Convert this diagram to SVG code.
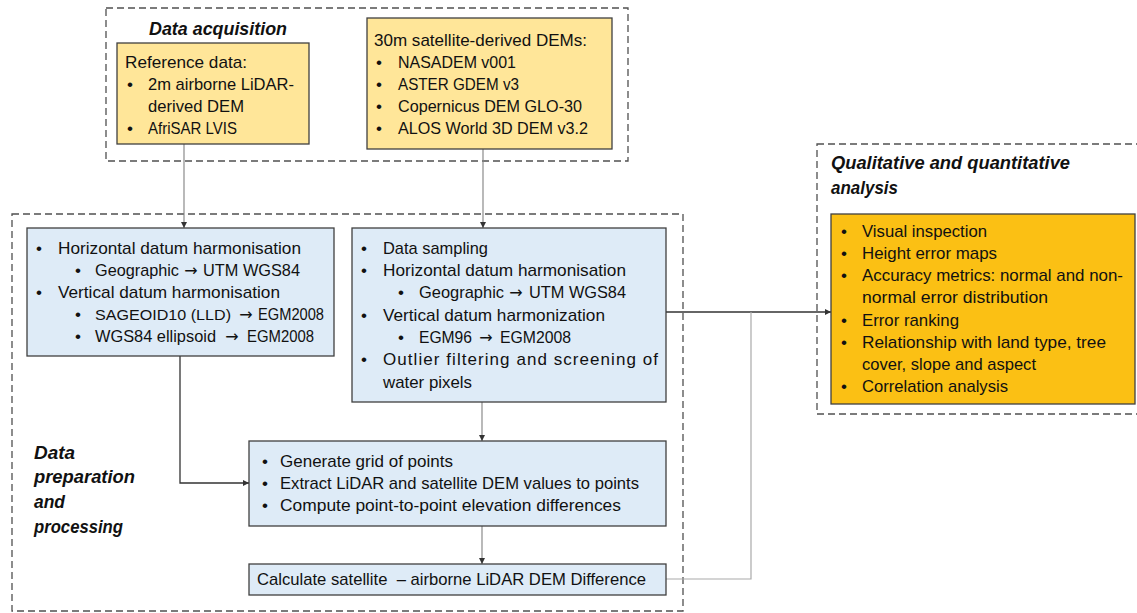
<svg xmlns="http://www.w3.org/2000/svg" width="1137" height="613" viewBox="0 0 1137 613">
<style>
.t{font-family:"Liberation Sans",Arial,sans-serif;font-size:17px;fill:#111}
.h{font-family:"Liberation Sans",Arial,sans-serif;font-size:18.5px;font-weight:bold;font-style:italic;fill:#111}
.ar{font-family:"DejaVu Sans",sans-serif;font-size:16px;fill:#111;text-anchor:middle}
.dash{fill:none;stroke:#505050;stroke-width:1.3;stroke-dasharray:7,4}
.y{fill:#FFE699;stroke:#404040;stroke-width:1.3}
.b{fill:#DEEBF7;stroke:#404040;stroke-width:1.3}
.o{fill:#FBC014;stroke:#404040;stroke-width:1.3}
.c1{fill:none;stroke:#808080;stroke-width:1.1}
.c2{fill:none;stroke:#333;stroke-width:1.3}
.c3{fill:none;stroke:#aaa;stroke-width:1.2}
</style>
<defs>
<marker id="ah" viewBox="0 0 10 10" refX="10" refY="5" markerWidth="6" markerHeight="6" markerUnits="userSpaceOnUse" orient="auto"><path d="M0,0L10,5L0,10z" fill="#333"/></marker>
</defs>

<g id="frames">
<rect class="dash" x="106" y="8" width="522" height="153"/>
<rect class="dash" x="12" y="214" width="671" height="397"/>
<rect class="dash" x="817" y="144" width="325" height="270"/>
<text class="h" x="149" y="35" textLength="138" lengthAdjust="spacingAndGlyphs">Data acquisition</text>
<text class="h" x="34" y="459" textLength="41" lengthAdjust="spacingAndGlyphs">Data</text>
<text class="h" x="34" y="483" textLength="101" lengthAdjust="spacingAndGlyphs">preparation</text>
<text class="h" x="34" y="508" textLength="31" lengthAdjust="spacingAndGlyphs">and</text>
<text class="h" x="34" y="533" textLength="89" lengthAdjust="spacingAndGlyphs">processing</text>
<text class="h" x="831" y="169" textLength="239" lengthAdjust="spacingAndGlyphs">Qualitative and quantitative</text>
<text class="h" x="831" y="194" textLength="67" lengthAdjust="spacingAndGlyphs">analysis</text>
</g>

<g id="connectors">
<path class="c1" d="M184,144V228" marker-end="url(#ah)"/>
<path class="c1" d="M483,149V228" marker-end="url(#ah)"/>
<path class="c2" d="M180,356V483H249" marker-end="url(#ah)"/>
<path class="c1" d="M482,402V441" marker-end="url(#ah)"/>
<path class="c1" d="M482,526V564" marker-end="url(#ah)"/>
<path class="c2" d="M666,312H831" marker-end="url(#ah)"/>
<path class="c3" d="M666,579H751V312"/>
</g>

<g id="ref-data">
<rect class="y" x="117" y="43" width="192" height="101"/>
<text class="t" x="125" y="68" textLength="122" lengthAdjust="spacingAndGlyphs">Reference data:</text>
<text class="t" x="127" y="90">•</text><text class="t" x="148" y="90" textLength="146" lengthAdjust="spacingAndGlyphs">2m airborne LiDAR-</text>
<text class="t" x="148" y="112" textLength="96" lengthAdjust="spacingAndGlyphs">derived DEM</text>
<text class="t" x="127" y="134">•</text><text class="t" x="148" y="134" textLength="89" lengthAdjust="spacingAndGlyphs">AfriSAR LVIS</text>
</g>

<g id="sat-dems">
<rect class="y" x="367" y="18" width="245" height="131"/>
<text class="t" x="374" y="46" textLength="213" lengthAdjust="spacingAndGlyphs">30m satellite-derived DEMs:</text>
<text class="t" x="376" y="68">•</text><text class="t" x="398" y="68" textLength="118" lengthAdjust="spacingAndGlyphs">NASADEM v001</text>
<text class="t" x="376" y="90">•</text><text class="t" x="398" y="90" textLength="121" lengthAdjust="spacingAndGlyphs">ASTER GDEM v3</text>
<text class="t" x="376" y="112">•</text><text class="t" x="398" y="112" textLength="184" lengthAdjust="spacingAndGlyphs">Copernicus DEM GLO-30</text>
<text class="t" x="376" y="134">•</text><text class="t" x="398" y="134" textLength="190" lengthAdjust="spacingAndGlyphs">ALOS World 3D DEM v3.2</text>
</g>

<g id="ref-harmonisation">
<rect class="b" x="27" y="228" width="307" height="128"/>
<text class="t" x="36" y="254">•</text><text class="t" x="58" y="254" textLength="243" lengthAdjust="spacingAndGlyphs">Horizontal datum harmonisation</text>
<text class="t" x="75" y="276">•</text>
<text class="t" x="95" y="276" textLength="84" lengthAdjust="spacingAndGlyphs">Geographic</text>
<text class="ar" x="191" y="276">→</text>
<text class="t" x="203" y="276" textLength="97" lengthAdjust="spacingAndGlyphs">UTM WGS84</text>
<text class="t" x="36" y="298">•</text><text class="t" x="58" y="298" textLength="222" lengthAdjust="spacingAndGlyphs">Vertical datum harmonisation</text>
<text class="t" x="75" y="320">•</text>
<text class="t" x="95" y="320" style="font-size:15px" textLength="136" lengthAdjust="spacingAndGlyphs">SAGEOID10 (LLD)</text>
<text class="ar" x="246" y="320">→</text>
<text class="t" x="258" y="320" textLength="66" lengthAdjust="spacingAndGlyphs">EGM2008</text>
<text class="t" x="75" y="342">•</text>
<text class="t" x="95" y="342" textLength="121" lengthAdjust="spacingAndGlyphs">WGS84 ellipsoid</text>
<text class="ar" x="232" y="342">→</text>
<text class="t" x="247" y="342" textLength="67" lengthAdjust="spacingAndGlyphs">EGM2008</text>
</g>

<g id="sat-processing">
<rect class="b" x="352" y="228" width="314" height="174"/>
<text class="t" x="361" y="254">•</text><text class="t" x="383" y="254" textLength="105" lengthAdjust="spacingAndGlyphs">Data sampling</text>
<text class="t" x="361" y="276">•</text><text class="t" x="383" y="276" textLength="243" lengthAdjust="spacingAndGlyphs">Horizontal datum harmonisation</text>
<text class="t" x="398" y="298">•</text>
<text class="t" x="419" y="298" textLength="85" lengthAdjust="spacingAndGlyphs">Geographic</text>
<text class="ar" x="516" y="298">→</text>
<text class="t" x="529" y="298" textLength="97" lengthAdjust="spacingAndGlyphs">UTM WGS84</text>
<text class="t" x="361" y="321">•</text><text class="t" x="383" y="321" textLength="222" lengthAdjust="spacingAndGlyphs">Vertical datum harmonization</text>
<text class="t" x="398" y="343">•</text>
<text class="t" x="419" y="343" textLength="53" lengthAdjust="spacingAndGlyphs">EGM96</text>
<text class="ar" x="486" y="343">→</text>
<text class="t" x="500" y="343" textLength="71" lengthAdjust="spacingAndGlyphs">EGM2008</text>
<text class="t" x="361" y="365">•</text><text class="t" x="383" y="365" textLength="275" lengthAdjust="spacing">Outlier filtering and screening of</text>
<text class="t" x="383" y="388" textLength="89" lengthAdjust="spacingAndGlyphs">water pixels</text>
</g>

<g id="grid-points">
<rect class="b" x="249" y="441" width="417" height="85"/>
<text class="t" x="262" y="467">•</text><text class="t" x="280" y="467" textLength="173" lengthAdjust="spacingAndGlyphs">Generate grid of points</text>
<text class="t" x="262" y="489">•</text><text class="t" x="280" y="489" textLength="359" lengthAdjust="spacingAndGlyphs">Extract LiDAR and satellite DEM values to points</text>
<text class="t" x="262" y="511">•</text><text class="t" x="280" y="511" textLength="341" lengthAdjust="spacingAndGlyphs">Compute point-to-point elevation differences</text>
</g>

<g id="difference">
<rect class="b" x="249" y="564" width="417" height="31"/>
<text class="t" x="257" y="585" textLength="389" lengthAdjust="spacingAndGlyphs">Calculate satellite&#160; – airborne LiDAR DEM Difference</text>
</g>

<g id="analysis">
<rect class="o" x="831" y="214" width="304" height="190"/>
<text class="t" x="841" y="237">•</text><text class="t" x="862" y="237" textLength="125" lengthAdjust="spacingAndGlyphs">Visual inspection</text>
<text class="t" x="841" y="259">•</text><text class="t" x="862" y="259" textLength="135" lengthAdjust="spacingAndGlyphs">Height error maps</text>
<text class="t" x="841" y="281">•</text><text class="t" x="862" y="281" textLength="261" lengthAdjust="spacingAndGlyphs">Accuracy metrics: normal and non-</text>
<text class="t" x="862" y="303" textLength="186" lengthAdjust="spacingAndGlyphs">normal error distribution</text>
<text class="t" x="841" y="326">•</text><text class="t" x="862" y="326" textLength="97" lengthAdjust="spacingAndGlyphs">Error ranking</text>
<text class="t" x="841" y="348">•</text><text class="t" x="862" y="348" textLength="244" lengthAdjust="spacingAndGlyphs">Relationship with land type, tree</text>
<text class="t" x="862" y="370" textLength="174" lengthAdjust="spacingAndGlyphs">cover, slope and aspect</text>
<text class="t" x="841" y="392">•</text><text class="t" x="862" y="392" textLength="146" lengthAdjust="spacingAndGlyphs">Correlation analysis</text>
</g>
</svg>
